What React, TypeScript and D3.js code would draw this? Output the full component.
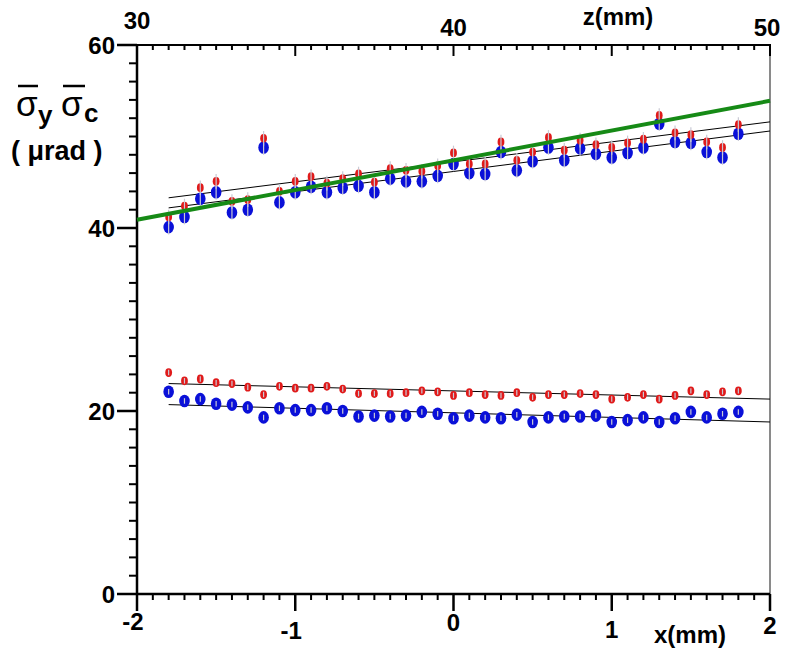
import { useEffect, useRef } from "react";
import * as d3 from "d3";

// x positions of the scan points (mm)
const xPoints = [
  -1.8, -1.7, -1.6, -1.5, -1.4, -1.3, -1.2, -1.1, -1.0, -0.9, -0.8, -0.7, -0.6,
  -0.5, -0.4, -0.3, -0.2, -0.1, 0.0, 0.1, 0.2, 0.3, 0.4, 0.5, 0.6, 0.7, 0.8,
  0.9, 1.0, 1.1, 1.2, 1.3, 1.4, 1.5, 1.6, 1.7, 1.8,
];

// upper group (sigma_y), red and blue
const upperRed = [
  41.2, 42.4, 44.4, 45.1, 42.9, 43.1, 49.8, 44.0, 45.1, 45.6, 44.9, 45.4, 45.9,
  45.0, 46.5, 46.3, 46.2, 46.8, 48.2, 47.0, 47.0, 49.4, 47.4, 48.3, 49.9, 48.5,
  49.6, 49.1, 48.8, 49.3, 49.7, 52.3, 50.4, 50.2, 49.4, 48.8, 51.3,
];
const upperBlue = [
  40.1, 41.2, 43.2, 43.9, 41.7, 42.0, 48.8, 42.8, 43.9, 44.5, 43.9, 44.4, 44.6,
  43.9, 45.4, 45.1, 45.1, 45.7, 47.0, 46.0, 45.9, 48.3, 46.3, 47.3, 48.8, 47.4,
  48.7, 48.1, 47.7, 48.2, 48.8, 51.4, 49.4, 49.3, 48.3, 47.7, 50.3,
];

// lower group (sigma_c), red and blue
const lowerRed = [
  24.2, 23.3, 23.5, 23.1, 23.0, 22.6, 21.8, 22.7, 22.5, 22.5, 22.7, 22.4, 21.9,
  21.9, 21.9, 22.0, 22.2, 22.1, 21.7, 22.0, 21.8, 21.7, 22.0, 21.5, 21.8, 21.8,
  21.9, 21.8, 21.3, 21.5, 21.8, 21.3, 21.7, 22.2, 21.8, 22.1, 22.2,
];
const lowerBlue = [
  22.1, 21.1, 21.3, 20.8, 20.7, 20.4, 19.3, 20.3, 20.1, 20.1, 20.3, 20.0, 19.4,
  19.5, 19.4, 19.5, 19.9, 19.7, 19.2, 19.5, 19.3, 19.2, 19.6, 18.8, 19.3, 19.4,
  19.4, 19.5, 18.8, 19.0, 19.3, 18.8, 19.2, 19.9, 19.3, 19.7, 19.9,
];

const upperError = 0.8;
const lowerError = 0.3;

// fitted straight lines: [x0, y0, x1, y1]
const fitUpperRed = [-1.8, 43.3, 2.0, 51.6];
const fitUpperBlue = [-1.8, 42.2, 2.0, 50.6];
const fitLowerRed = [-1.8, 23.0, 2.0, 21.3];
const fitLowerBlue = [-1.8, 20.7, 2.0, 18.8];
const greenLine = [-2.0, 40.9, 2.0, 53.9];

const xTicks = [-2, -1, 0, 1, 2];
const xTickLabelDy = [0, 9, 1, 8, 4];
const yTicks = [0, 20, 40, 60];
const zTicks = [30, 40, 50];
const zTickLabelDy = [0, 7, 7];

const W = 795;
const H = 663;
const FONT = "'Liberation Sans', Arial, sans-serif";

export default function App() {
  const svgRef = useRef<SVGSVGElement>(null);

  useEffect(() => {
    if (!svgRef.current) return;
    const svg = d3.select(svgRef.current);
    svg.selectAll("*").remove();

    const x = d3.scaleLinear().domain([-2, 2]).range([137, 770]);
    const z = d3.scaleLinear().domain([30, 50]).range([137, 770]);
    const y = d3.scaleLinear().domain([0, 60]).range([594, 45]);

    // frame: right side is a grey line, others black
    svg.append("line")
      .attr("x1", x(2)).attr("x2", x(2))
      .attr("y1", y(60)).attr("y2", y(0))
      .attr("stroke", "#8a8a8a").attr("stroke-width", 2);

    const axisG = svg.append("g").attr("stroke", "#000");

    // left axis
    axisG.append("line")
      .attr("x1", x(-2)).attr("x2", x(-2))
      .attr("y1", y(60) - 1).attr("y2", y(0) + 1)
      .attr("stroke-width", 2.5);
    d3.range(0, 61, 2).forEach((v) => {
      const major = v % 20 === 0;
      axisG.append("line")
        .attr("x1", x(-2) - (major ? 20 : 8)).attr("x2", x(-2))
        .attr("y1", y(v)).attr("y2", y(v))
        .attr("stroke-width", major ? 2.5 : 2);
    });

    // bottom axis
    axisG.append("line")
      .attr("x1", x(-2)).attr("x2", x(2))
      .attr("y1", y(0)).attr("y2", y(0))
      .attr("stroke-width", 2.5);
    d3.range(-20, 21).forEach((i) => {
      const v = i / 10;
      const major = i % 10 === 0;
      axisG.append("line")
        .attr("x1", x(v)).attr("x2", x(v))
        .attr("y1", y(0)).attr("y2", y(0) + (major ? 17 : 6))
        .attr("stroke-width", major ? 2.5 : 2);
    });

    // top axis (z in mm)
    axisG.append("line")
      .attr("x1", z(30)).attr("x2", z(50))
      .attr("y1", y(60)).attr("y2", y(60))
      .attr("stroke-width", 2);
    d3.range(60, 101).forEach((i) => {
      const v = i / 2;
      const major = i % 10 === 0;
      axisG.append("line")
        .attr("x1", z(v)).attr("x2", z(v))
        .attr("y1", y(60) - 1).attr("y2", y(60) + (major ? 11 : 5))
        .attr("stroke-width", 2);
    });

    const txt = svg.append("g")
      .style("font-family", FONT)
      .style("font-weight", "bold")
      .style("font-size", "24px")
      .attr("fill", "#000");

    yTicks.forEach((v) => {
      txt.append("text")
        .attr("x", 115).attr("y", y(v))
        .attr("dy", "0.36em")
        .attr("text-anchor", "end")
        .text(v);
    });
    xTicks.forEach((v, i) => {
      txt.append("text")
        .attr("x", x(v) - (v < 0 ? 4 : 0)).attr("y", y(0) + 36 + xTickLabelDy[i])
        .attr("text-anchor", "middle")
        .text(v);
    });
    zTicks.forEach((v, i) => {
      txt.append("text")
        .attr("x", z(v) + (v === 50 ? -3 : 0)).attr("y", 29 + zTickLabelDy[i])
        .attr("text-anchor", "middle")
        .text(v);
    });
    txt.append("text").attr("x", 618).attr("y", 25)
      .attr("text-anchor", "middle").text("z(mm)");
    txt.append("text").attr("x", 690).attr("y", 643)
      .attr("text-anchor", "middle").text("x(mm)");

    // y axis title: sigma-bar_y sigma-bar_c (μrad)
    const title = svg.append("g")
      .style("font-family", FONT)
      .attr("fill", "#000");
    title.append("text").attr("x", 16).attr("y", 116)
      .style("font-size", "35px").text("σ");
    title.append("text").attr("x", 38).attr("y", 124)
      .style("font-size", "26px").style("font-weight", "bold").text("y");
    title.append("text").attr("x", 61).attr("y", 116)
      .style("font-size", "35px").text("σ");
    title.append("text").attr("x", 84).attr("y", 122)
      .style("font-size", "26px").style("font-weight", "bold").text("c");
    [[18, 38], [63, 85]].forEach(([a, b]) => {
      title.append("line")
        .attr("x1", a).attr("x2", b).attr("y1", 86).attr("y2", 86)
        .attr("stroke", "#000").attr("stroke-width", 2.5);
    });
    title.append("text").attr("x", 11).attr("y", 160)
      .style("font-size", "27px").style("font-weight", "bold")
      .text("( μrad )");

    const plot = svg.append("g");

    const drawFit = (f: number[], color: string, width: number) => {
      plot.append("line")
        .attr("x1", x(f[0])).attr("y1", y(f[1]))
        .attr("x2", x(f[2])).attr("y2", y(f[3]))
        .attr("stroke", color).attr("stroke-width", width);
    };

    const drawSeries = (vals: number[], err: number, color: string, rx: number, ry: number) => {
      const g = plot.append("g");
      g.selectAll("ellipse")
        .data(vals)
        .enter()
        .append("ellipse")
        .attr("cx", (_d, i) => x(xPoints[i]))
        .attr("cy", (d) => y(d))
        .attr("rx", rx).attr("ry", ry)
        .attr("fill", color);
      g.selectAll("line")
        .data(vals)
        .enter()
        .append("line")
        .attr("x1", (_d, i) => x(xPoints[i]))
        .attr("x2", (_d, i) => x(xPoints[i]))
        .attr("y1", (d) => y(d + err))
        .attr("y2", (d) => y(d - err))
        .attr("stroke", "#c9c9d4").attr("stroke-width", 1.2);
    };

    drawFit(fitUpperRed, "#000", 1);
    drawFit(fitUpperBlue, "#000", 1);
    drawFit(fitLowerRed, "#000", 1);
    drawFit(fitLowerBlue, "#000", 1);

    drawSeries(upperBlue, upperError, "#0a10d8", 5.3, 6.3);
    drawSeries(upperRed, upperError, "#e01a1a", 3.4, 4.4);
    drawSeries(lowerBlue, lowerError, "#0a10d8", 5.3, 6.3);
    drawSeries(lowerRed, lowerError, "#e01a1a", 3.4, 4.4);

    drawFit(greenLine, "#168a16", 4);
  }, []);

  return (
    <div style={{ position: "absolute", left: 0, top: 0, background: "#fff" }}>
      <svg ref={svgRef} width={W} height={H} style={{ display: "block" }} />
    </div>
  );
}
